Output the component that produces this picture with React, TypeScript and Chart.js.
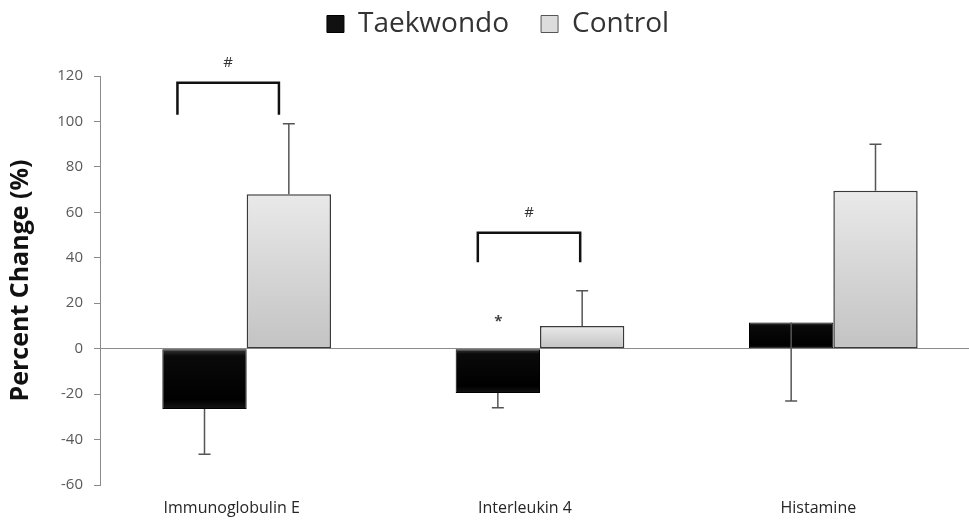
import React, { useEffect, useRef } from "react";
import { Chart, registerables } from "chart.js";

Chart.register(...registerables);

const categories = ["Immunoglobulin E", "Interleukin 4", "Histamine"];
const taekwondo = [-26.5, -19.5, 11.5];
const control = [68, 10, 69.5];
const taekwondoErr = [20, 6.5, 34.5]; // drawn downward
const controlErr = [31, 15.5, 20.5]; // drawn upward
const yMin = -60;
const yMax = 120;
const yStep = 20;

// significance brackets (category index, offsets in category units, values)
const bracketCategory = [0, 1];
const bracketLeft = [-0.236, -0.212];
const bracketRight = [0.11, 0.137];
const bracketTop = [117, 51];
const bracketFoot = [103, 38];
const bracketMark = ["#", "#"];
const bracketMarkValue = [126, 60];
const starCategory = [1];
const starOffset = [-0.142];
const starValue = [13];

const FONT = "'Open Sans', sans-serif";
const LEGEND_PAD = 32;

function barGradient(ctx: any, stops: [number, string][], fallback: string) {
  const chart = ctx.chart;
  const y = chart.scales && chart.scales.y;
  if (!chart.chartArea || !y || typeof ctx.raw !== "number") return fallback;
  const p0 = y.getPixelForValue(0);
  const p1 = y.getPixelForValue(ctx.raw);
  const top = Math.min(p0, p1);
  const bot = Math.max(p0, p1);
  if (bot - top < 1) return fallback;
  const g = chart.ctx.createLinearGradient(0, top, 0, bot);
  stops.forEach(([o, c]) => g.addColorStop(o, c));
  return g;
}

const legendTweak = {
  id: "legendTweak",
  beforeInit(chart: any) {
    const lg = chart.legend;
    if (!lg || lg.__tweaked) return;
    lg.__tweaked = true;
    const fit = lg.fit.bind(lg);
    lg.fit = function () {
      fit();
      this.height = 76;
    };
    const draw = lg.draw.bind(lg);
    lg.draw = function () {
      const c = this.ctx;
      c.save();
      c.translate(8, -(LEGEND_PAD - 10));
      draw();
      c.restore();
    };
  },
};

const overlayPlugin = {
  id: "overlay",
  afterDatasetsDraw(chart: any) {
    const { ctx, scales } = chart;
    const xs = scales.x;
    const ys = scales.y;
    ctx.save();
    // error bars
    const errs = [taekwondoErr, controlErr];
    const dirs = [-1, 1];
    chart.data.datasets.forEach((ds: any, di: number) => {
      const meta = chart.getDatasetMeta(di);
      meta.data.forEach((el: any, i: number) => {
        const v = ds.data[i];
        const e = errs[di][i];
        const yA = ys.getPixelForValue(v);
        const yB = ys.getPixelForValue(v + dirs[di] * e);
        ctx.strokeStyle = "#555555";
        ctx.lineWidth = 1.5;
        ctx.beginPath();
        ctx.moveTo(el.x, yA);
        ctx.lineTo(el.x, yB);
        ctx.moveTo(el.x - 6, yB);
        ctx.lineTo(el.x + 6, yB);
        ctx.stroke();
      });
    });
    // brackets
    ctx.strokeStyle = "#111111";
    ctx.lineWidth = 2.5;
    ctx.lineJoin = "miter";
    bracketCategory.forEach((c, i) => {
      const xl = xs.getPixelForValue(c + bracketLeft[i]);
      const xr = xs.getPixelForValue(c + bracketRight[i]);
      const yt = ys.getPixelForValue(bracketTop[i]);
      const yf = ys.getPixelForValue(bracketFoot[i]);
      ctx.beginPath();
      ctx.moveTo(xl, yf);
      ctx.lineTo(xl, yt);
      ctx.lineTo(xr, yt);
      ctx.lineTo(xr, yf);
      ctx.stroke();
      ctx.fillStyle = "#333333";
      ctx.font = `15px ${FONT}`;
      ctx.textAlign = "center";
      ctx.textBaseline = "middle";
      ctx.fillText(bracketMark[i], (xl + xr) / 2, ys.getPixelForValue(bracketMarkValue[i]));
    });
    starCategory.forEach((c, i) => {
      ctx.fillStyle = "#444444";
      ctx.font = `bold 15px ${FONT}`;
      ctx.textAlign = "center";
      ctx.textBaseline = "middle";
      ctx.fillText("*", xs.getPixelForValue(c + starOffset[i]), ys.getPixelForValue(starValue[i]) + 3);
    });
    ctx.restore();
  },
};

export default function App() {
  const ref = useRef<HTMLCanvasElement | null>(null);
  useEffect(() => {
    if (!ref.current) return;
    const chart = new Chart(ref.current, {
      type: "bar",
      data: {
        labels: categories,
        datasets: [
          {
            label: "Taekwondo",
            data: taekwondo,
            backgroundColor: (ctx: any) =>
              barGradient(
                ctx,
                [
                  [0, "#3c3c3c"],
                  [0.12, "#0a0a0a"],
                  [0.85, "#000000"],
                  [1, "#151515"],
                ],
                "#000000"
              ),
            borderColor: "#000000",
            borderWidth: 1,
            borderSkipped: false,
          },
          {
            label: "Control",
            data: control,
            backgroundColor: (ctx: any) =>
              barGradient(
                ctx,
                [
                  [0, "#e9e9e9"],
                  [1, "#c3c3c3"],
                ],
                "#d6d6d6"
              ),
            borderColor: "#3a3a3a",
            borderWidth: 1.5,
            borderSkipped: false,
          },
        ],
      },
      options: {
        animation: false,
        responsive: false,
        maintainAspectRatio: false,
        layout: { padding: { top: 0, right: 0, bottom: 0, left: 0 } },
        plugins: {
          tooltip: { enabled: false },
          legend: {
            position: "top",
            align: "center",
            labels: {
              font: { family: FONT, size: 28 },
              color: "#333333",
              boxWidth: 17,
              boxHeight: 17,
              padding: LEGEND_PAD,
              generateLabels: () => [
                {
                  text: "Taekwondo",
                  fillStyle: "#111111",
                  strokeStyle: "#000000",
                  lineWidth: 1,
                  datasetIndex: 0,
                  fontColor: "#333333",
                },
                {
                  text: "Control",
                  fillStyle: "#dcdcdc",
                  strokeStyle: "#555555",
                  lineWidth: 1,
                  datasetIndex: 1,
                  fontColor: "#333333",
                },
              ],
            },
          },
        },
        datasets: {
          bar: { barPercentage: 1, categoryPercentage: 0.575 },
        },
        scales: {
          x: {
            offset: true,
            grid: { display: false },
            border: { display: false },
            ticks: {
              font: { family: FONT, size: 16 },
              color: "#262626",
              padding: 6,
              labelOffset: -15,
            },
            afterFit: (s: any) => {
              s.height = 40;
            },
          },
          y: {
            min: yMin,
            max: yMax,
            ticks: {
              stepSize: yStep,
              font: { family: FONT, size: 15 },
              color: "#595959",
              padding: 11,
            },
            grid: {
              color: (c: any) => (c.tick && c.tick.value === 0 ? "#8a8a8a" : "rgba(0,0,0,0)"),
              tickColor: "#8a8a8a",
              tickLength: 6,
              lineWidth: 1,
            },
            border: { display: true, color: "#8a8a8a", width: 1 },
            title: {
              display: true,
              text: "Percent Change (%)",
              font: { family: FONT, size: 25, weight: "bold" },
              color: "#111111",
              padding: { top: 6, bottom: 0 },
            },
            afterFit: (s: any) => {
              s.width = 100;
            },
          },
        },
      },
      plugins: [legendTweak, overlayPlugin],
    } as any);
    return () => chart.destroy();
  }, []);
  return (
    <div
      style={{
        position: "fixed",
        left: 0,
        top: 0,
        width: 969,
        height: 525,
        overflow: "hidden",
        background: "#fff",
      }}
    >
      <canvas ref={ref} width={980} height={525} style={{ width: 980, height: 525, display: "block" }} />
    </div>
  );
}
